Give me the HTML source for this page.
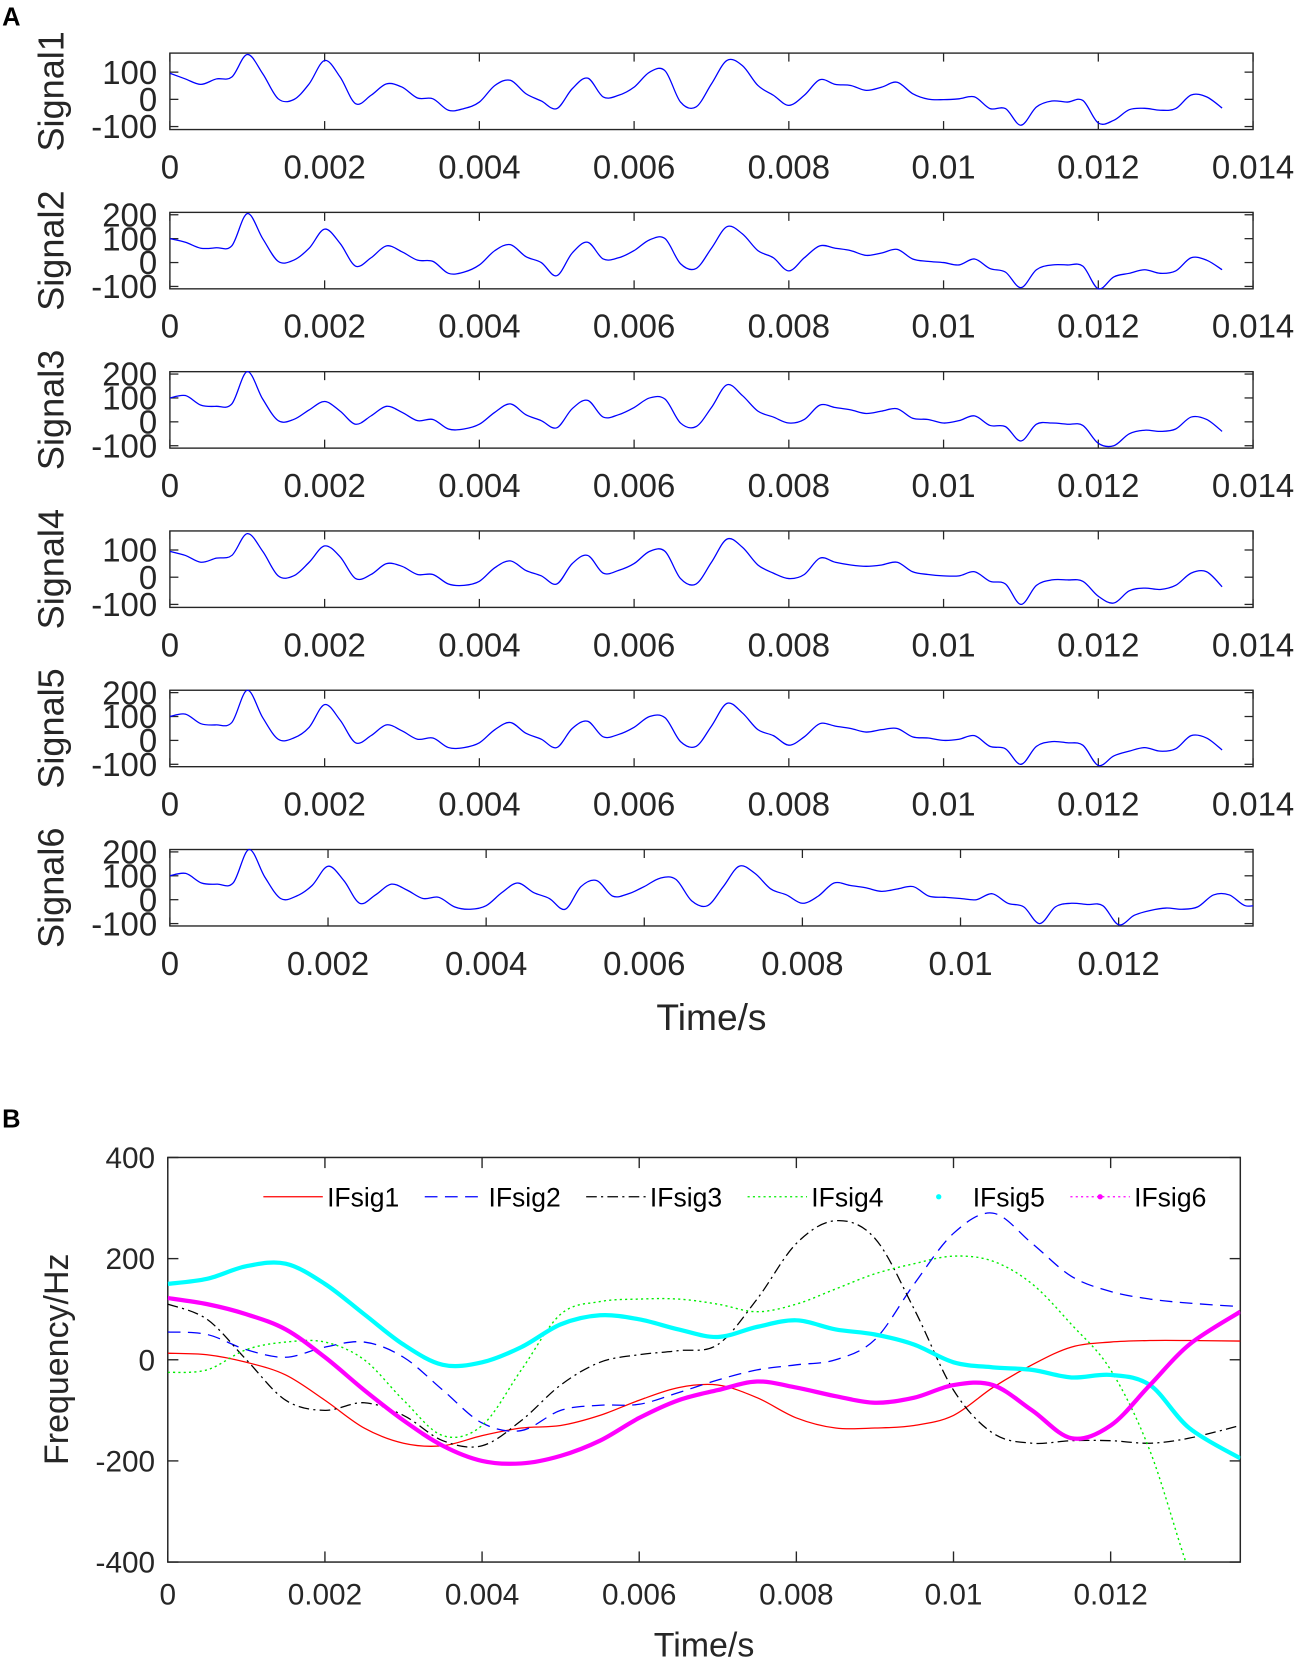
<!DOCTYPE html>
<html><head><meta charset="utf-8">
<style>
html,body{margin:0;padding:0;background:#fff;}
svg{display:block;font-family:"Liberation Sans",Arial,sans-serif;}
</style></head>
<body>
<svg id="fig" width="1303" height="1664" viewBox="0 0 1303 1664" xmlns="http://www.w3.org/2000/svg">
<g id="root" transform="scale(1.0619)">
<text x="2" y="24" font-size="24" font-weight="bold" fill="#000">A</text>
<text x="2" y="1062" font-size="24" font-weight="bold" fill="#000">B</text>
<g id="panelA"></g>
<g id="panelB"></g>
</g>
</svg>
<script>
// ---------- Panel A data (sampled every 0.0002 s) ----------
const sig1 = [96,75,55,75,82,165,94,2,-1,57,143,82,-16,15,57,45,5,2,-40,-34,-10,51,70,21,-6,-34,39,78,9,15,45,100,105,-10,-28,57,143,124,51,15,-22,15,72,55,51,33,45,63,21,1,-1,2,9,-34,-34,-95,-28,-6,-10,-4,-87,-77,-38,-33,-40,-34,16,9,-32];
const sig2 = [100,85,60,62,70,205,100,5,10,60,140,80,-15,20,70,45,10,5,-45,-40,-10,50,75,25,0,-55,40,85,15,20,50,95,100,-5,-25,60,150,120,50,20,-35,20,70,60,50,30,40,55,15,5,0,-10,15,-25,-40,-105,-30,-10,-10,-15,-110,-60,-45,-30,-45,-35,20,10,-30];
const sig3 = [100,110,70,65,75,210,95,5,10,50,85,45,-10,25,65,40,5,10,-30,-30,-10,40,75,30,5,-25,55,90,20,30,60,100,95,-5,-20,60,155,110,45,20,-5,10,70,60,50,35,45,55,15,10,-5,5,25,-15,-20,-80,-10,-5,-10,-15,-90,-100,-50,-35,-40,-30,20,10,-40];
const sig4 = [95,80,55,70,80,160,95,5,5,55,115,75,-5,10,50,40,10,10,-25,-30,-15,35,60,25,5,-25,50,80,15,25,50,95,95,-5,-25,55,140,110,45,15,-5,10,70,55,45,40,45,55,20,10,5,5,20,-15,-25,-100,-30,-10,-10,-15,-70,-95,-50,-40,-45,-30,15,20,-35];
const sig5 = [100,110,70,65,75,210,95,5,10,55,150,85,-10,20,65,40,5,10,-30,-30,-10,45,75,30,5,-30,50,80,15,25,55,100,95,-5,-25,60,155,115,45,20,-20,15,70,60,50,35,45,50,15,10,0,5,20,-25,-35,-100,-25,-5,-10,-20,-105,-65,-45,-30,-45,-35,20,10,-40];
const sig6 = [100,110,70,65,70,210,95,5,15,60,140,80,-15,20,65,40,5,10,-30,-40,-25,30,70,30,5,-40,55,80,15,25,55,90,85,-5,-25,55,140,110,45,20,-15,15,70,60,50,35,45,55,15,10,5,0,25,-15,-30,-100,-30,-15,-20,-25,-105,-65,-45,-35,-40,-30,20,20,-25,-20];
const signals = [sig1,sig2,sig3,sig4,sig5,sig6];
const signalNames = ["Signal1","Signal2","Signal3","Signal4","Signal5","Signal6"];
const yRanges = [[-111,170],[-110,210],[-110,210],[-111,170],[-110,210],[-110,210]];
const yTicksA = [[-100,0,100],[-100,0,100,200],[-100,0,100,200],[-100,0,100],[-100,0,100,200],[-100,0,100,200]];
const xMaxA = [0.014,0.014,0.014,0.014,0.014,0.0137];
const xTicksA = [0,0.002,0.004,0.006,0.008,0.01,0.012,0.014];
const xTickLabelsA = ["0","0.002","0.004","0.006","0.008","0.01","0.012","0.014"];
const dtA = 0.0002;

// ---------- Panel B data ----------
const tB = [0,0.0005,0.001,0.0015,0.002,0.0025,0.003,0.0035,0.004,0.0045,0.005,0.0055,0.006,0.0065,0.007,0.0075,0.008,0.0085,0.009,0.0095,0.01,0.0105,0.011,0.0115,0.012,0.0125,0.013,0.01365];
const ifsig1 = [13,10,-5,-30,-80,-135,-165,-170,-150,-135,-130,-110,-80,-55,-50,-75,-115,-135,-135,-130,-110,-55,-10,25,35,38,38,37];
const ifsig2 = [55,50,20,5,25,35,5,-60,-125,-140,-100,-90,-88,-65,-40,-20,-10,0,40,150,250,290,230,165,135,120,112,105];
const ifsig3 = [110,80,0,-80,-100,-85,-110,-160,-170,-120,-50,-5,10,18,30,120,230,275,240,100,-60,-145,-165,-160,-160,-165,-155,-130];
const ifsig4 = [-25,-20,20,35,35,0,-80,-150,-130,-20,90,115,120,120,110,95,110,140,170,190,205,195,150,70,-20,-180,-420,-700];
const ifsig5 = [150,160,185,190,150,90,30,-10,-5,25,70,88,80,60,45,65,78,60,50,30,-5,-15,-20,-35,-30,-50,-135,-195];
const ifsig6 = [122,110,90,60,5,-60,-120,-170,-200,-205,-190,-160,-115,-80,-60,-43,-55,-72,-85,-75,-50,-50,-100,-155,-130,-50,30,95];
const yTicksB = [-400,-200,0,200,400];
const xTicksB = [0,0.002,0.004,0.006,0.008,0.01,0.012];
const xTickLabelsB = ["0","0.002","0.004","0.006","0.008","0.01","0.012"];
const legendLabels = ["IFsig1","IFsig2","IFsig3","IFsig4","IFsig5","IFsig6"];

const NS = "http://www.w3.org/2000/svg";
function mk(tag, attrs, parent){const e=document.createElementNS(NS,tag);for(const k in attrs)e.setAttribute(k,attrs[k]);parent.appendChild(e);return e;}
function smoothPath(pts){
  let d="M"+pts[0][0].toFixed(2)+","+pts[0][1].toFixed(2);
  for(let i=0;i<pts.length-1;i++){
    const p0=pts[Math.max(0,i-1)],p1=pts[i],p2=pts[i+1],p3=pts[Math.min(pts.length-1,i+2)];
    const c1x=p1[0]+(p2[0]-p0[0])/6,c1y=p1[1]+(p2[1]-p0[1])/6;
    const c2x=p2[0]-(p3[0]-p1[0])/6,c2y=p2[1]-(p3[1]-p1[1])/6;
    d+=" C"+c1x.toFixed(2)+","+c1y.toFixed(2)+" "+c2x.toFixed(2)+","+c2y.toFixed(2)+" "+p2[0].toFixed(2)+","+p2[1].toFixed(2);
  }
  return d;
}

// ---------- Panel A ----------
const gA=document.getElementById("panelA");
const L=160,R=1180;
for(let s=0;s<6;s++){
  const top=50+150*s,bot=top+72;
  const [y0,y1]=yRanges[s];
  const xs=t=>L+t/xMaxA[s]*(R-L);
  const ys=v=>bot-(v-y0)/(y1-y0)*(bot-top);
  const g=mk("g",{},gA);
  
  
  const clipId="clipA"+s;
  const cp=mk("clipPath",{id:clipId},g);
  mk("rect",{x:L,y:top-1,width:R-L,height:bot-top+2},cp);
  const box=mk("rect",{x:L,y:top,width:R-L,height:bot-top,fill:"none",stroke:"#262626","stroke-width":1.3},g);
  
  
  xTicksA.forEach((t,i)=>{
    if(t>xMaxA[s]+1e-9)return;
    const x=xs(t);
    mk("line",{x1:x,y1:bot,x2:x,y2:bot-8,stroke:"#262626","stroke-width":1.2},g);
    mk("line",{x1:x,y1:top,x2:x,y2:top+8,stroke:"#262626","stroke-width":1.2},g);
    const tx=mk("text",{x:x,y:bot+46,"font-size":31,"text-anchor":"middle",fill:"#262626"},g);
    tx.textContent=xTickLabelsA[i];
    
    
  });
  yTicksA[s].forEach(v=>{
    const y=ys(v);
    mk("line",{x1:L,y1:y,x2:L+8,y2:y,stroke:"#262626","stroke-width":1.2},g);
    mk("line",{x1:R,y1:y,x2:R-8,y2:y,stroke:"#262626","stroke-width":1.2},g);
    const tx=mk("text",{x:L-12,y:y+11,"font-size":31,"text-anchor":"end",fill:"#262626"},g);
    tx.textContent=String(v);
    
    
  });
  const lab=mk("text",{x:0,y:0,"font-size":34,"text-anchor":"middle",fill:"#262626",transform:"translate(60,"+((top+bot)/2)+") rotate(-90)"},g);
  lab.textContent=signalNames[s];
  
  
  const pts=signals[s].map((v,i)=>[xs(i*dtA),ys(v)]);
  const p=mk("path",{d:smoothPath(pts),fill:"none",stroke:"#0000ff","stroke-width":1.2,"clip-path":"url(#"+clipId+")"},g);
  
  
}
const tA=mk("text",{x:670,y:970,"font-size":35,"text-anchor":"middle",fill:"#262626"},gA);
tA.textContent="Time/s";



// ---------- Panel B ----------
const gB=document.getElementById("panelB");
const BL=158,BR=1168,BT=1090,BB=1471,xMaxB=0.01365;
const xb=t=>BL+t/xMaxB*(BR-BL);
const yb=v=>BB-(v+400)/800*(BB-BT);
const cpB=mk("clipPath",{id:"clipB"},gB);
mk("rect",{x:BL,y:BT,width:BR-BL,height:BB-BT},cpB);
const boxB=mk("rect",{x:BL,y:BT,width:BR-BL,height:BB-BT,fill:"none",stroke:"#262626","stroke-width":1.4},gB);


xTicksB.forEach((t,i)=>{
  const x=xb(t);
  mk("line",{x1:x,y1:BB,x2:x,y2:BB-10,stroke:"#262626","stroke-width":1.3},gB);
  mk("line",{x1:x,y1:BT,x2:x,y2:BT+10,stroke:"#262626","stroke-width":1.3},gB);
  const tx=mk("text",{x:x,y:BB+40,"font-size":28,"text-anchor":"middle",fill:"#262626"},gB);
  tx.textContent=xTickLabelsB[i];
  
  
});
yTicksB.forEach(v=>{
  const y=yb(v);
  mk("line",{x1:BL,y1:y,x2:BL+10,y2:y,stroke:"#262626","stroke-width":1.3},gB);
  mk("line",{x1:BR,y1:y,x2:BR-10,y2:y,stroke:"#262626","stroke-width":1.3},gB);
  const tx=mk("text",{x:BL-12,y:y+10,"font-size":28,"text-anchor":"end",fill:"#262626"},gB);
  tx.textContent=String(v);
  
  
});
const yt=mk("text",{x:0,y:0,"font-size":32,"text-anchor":"middle",fill:"#262626",transform:"translate(64,1280) rotate(-90)"},gB);
yt.textContent="Frequency/Hz";


const xt=mk("text",{x:663,y:1560,"font-size":32,"text-anchor":"middle",fill:"#262626"},gB);
xt.textContent="Time/s";



const styles=[
  {c:"#ff0000",w:1.2,da:""},
  {c:"#0000ff",w:1.2,da:"12,7"},
  {c:"#000000",w:1.2,da:"10,4,2,4"},
  {c:"#00ee00",w:1.3,da:"2,3"},
  {c:"#00ffff",w:4,da:""},
  {c:"#ff00ff",w:4,da:""}
];
const seriesB=[ifsig1,ifsig2,ifsig3,ifsig4,ifsig5,ifsig6];
seriesB.forEach((arr,k)=>{
  const pts=arr.map((v,i)=>[xb(tB[i]),yb(v)]);
  const p=mk("path",{d:smoothPath(pts),fill:"none",stroke:styles[k].c,"stroke-width":styles[k].w,"clip-path":"url(#clipB)"},gB);
  if(styles[k].da)p.setAttribute("stroke-dasharray",styles[k].da);
  
  
});
const legX=[248,400,552,704,856,1008];
legendLabels.forEach((lbl,k)=>{
  const g=mk("g",{},gB);
  
  
  const y=1127,x0=legX[k];
  if(k===4){
    mk("circle",{cx:x0+28,cy:y,r:2.5,fill:"#00ffff"},g);
  }else{
    const ln=mk("line",{x1:x0,y1:y,x2:x0+56,y2:y,stroke:styles[k].c,"stroke-width":1.2},g);
    if(k===5){ln.setAttribute("stroke-dasharray","2,3");mk("circle",{cx:x0+28,cy:y,r:2.5,fill:"#ff00ff"},g);}
    else if(styles[k].da)ln.setAttribute("stroke-dasharray",styles[k].da);
  }
  const tx=mk("text",{x:x0+60,y:y+9,"font-size":25,fill:"#000"},g);
  tx.textContent=lbl;
});
</script>
</body></html>
